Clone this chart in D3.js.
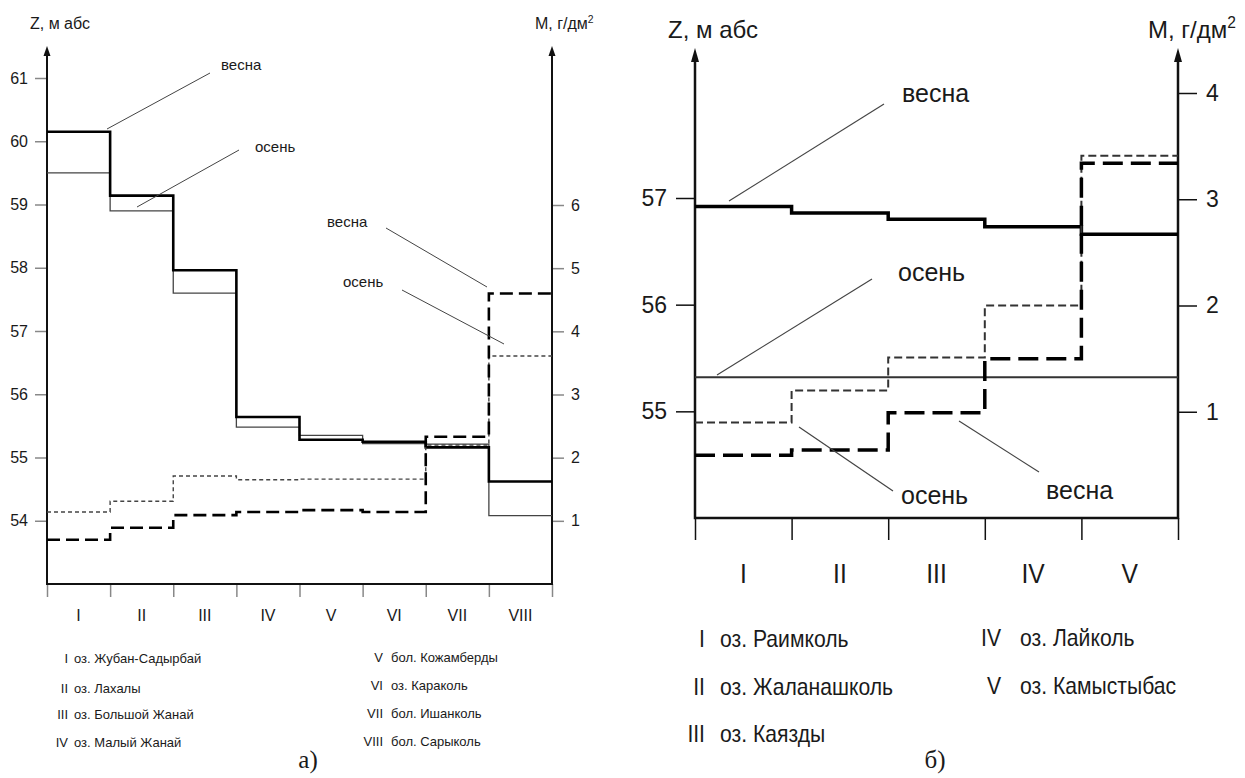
<!DOCTYPE html>
<html>
<head>
<meta charset="utf-8">
<script src="https://cdn.jsdelivr.net/npm/d3@7"></script>
<style>
  body { margin: 0; background: #fff; }
  svg { display: block; }
  text { font-family: "Liberation Sans", Arial, sans-serif; fill: #1a1a1a; }
  .serif { font-family: "Liberation Serif", "Times New Roman", serif; }
</style>
</head>
<body>
<svg id="chart" width="1245" height="778"></svg>
<script>
// ---- panel a) ----
const catsA = ['I', 'II', 'III', 'IV', 'V', 'VI', 'VII', 'VIII'];
const zSpringA = [60.15, 59.14, 57.96, 55.64, 55.28, 55.25, 55.16, 54.62];
const zAutumnA = [59.50, 58.90, 57.60, 55.48, 55.35, 55.22, 55.21, 54.08];
const mSpringA = [0.70, 0.89, 1.09, 1.14, 1.17, 1.14, 2.33, 4.60];
const mAutumnA = [1.14, 1.31, 1.71, 1.65, 1.66, 1.66, 2.20, 3.61];
const zTicksA = [54, 55, 56, 57, 58, 59, 60, 61];
const mTicksA = [1, 2, 3, 4, 5, 6];
const legendA = [
  ['I', 'оз. Жубан-Садырбай'], ['II', 'оз. Лахалы'],
  ['III', 'оз. Большой Жанай'], ['IV', 'оз. Малый Жанай'],
  ['V', 'бол. Кожамберды'], ['VI', 'оз. Караколь'],
  ['VII', 'бол. Ишанколь'], ['VIII', 'бол. Сарыколь']
];

// ---- panel б) ----
const catsB = ['I', 'II', 'III', 'IV', 'V'];
const zSpringB = [56.92, 56.86, 56.80, 56.73, 56.66];
const zAutumnB = [55.32, 55.32, 55.32, 55.32, 55.32];
const mSpringB = [0.59, 0.64, 0.99, 1.50, 3.34];
const mAutumnB = [0.90, 1.20, 1.51, 2.00, 3.41];
const zTicksB = [55, 56, 57];
const mTicksB = [1, 2, 3, 4];
const legendB = [
  ['I', 'оз. Раимколь'], ['II', 'оз. Жаланашколь'], ['III', 'оз. Каязды'],
  ['IV', 'оз. Лайколь'], ['V', 'оз. Камыстыбас']
];

const svg = d3.select('#chart');

function stepPoints(values) {
  const pts = values.map((v, i) => [i, v]);
  pts.push([values.length, values[values.length - 1]]);
  return pts;
}

// text with optional horizontal squeeze (the right panel's font is narrow)
function label(g, x, y, size, str, anchor, sx) {
  return g.append('text')
    .attr('transform', `translate(${x},${y}) scale(${sx || 1},1)`)
    .attr('text-anchor', anchor || 'start')
    .style('font-size', size + 'px')
    .text(str);
}

function drawPanel(p) {
  const g = svg.append('g');
  const x = d3.scaleLinear().domain([0, p.cats.length]).range([p.left, p.right]);
  const yZ = d3.scaleLinear().domain(p.zDomain).range([p.bottom, p.zTopY]);
  const yM = d3.scaleLinear().domain(p.mDomain).range([p.bottom, p.mTopY]);

  const axL = g.append('g').attr('transform', `translate(${p.left},0)`)
    .call(d3.axisLeft(yZ).tickValues(p.zTicks).tickFormat(d3.format('d'))
      .tickSize(p.tickLen).tickPadding(p.tickPad));
  const axR = g.append('g').attr('transform', `translate(${p.right},0)`)
    .call(d3.axisRight(yM).tickValues(p.mTicks).tickFormat(d3.format('d'))
      .tickSize(p.tickLen).tickPadding(p.tickPad));
  const axB = g.append('g').attr('transform', `translate(0,${p.bottom})`)
    .call(d3.axisBottom(x).tickValues(d3.range(p.cats.length + 1)).tickSize(p.xTickLen).tickFormat(''));
  [axL, axR, axB].forEach(a => {
    a.select('.domain').remove();
    a.selectAll('.tick line').attr('stroke', p.tickColor).attr('stroke-width', p.tickWidth);
    a.selectAll('.tick text').style('font-size', p.tickFont + 'px').attr('fill', '#1a1a1a');
  });

  // category labels
  p.cats.forEach((c, i) => label(g, x(i + 0.5), p.catY, p.catFont, c, 'middle', p.catSx));

  // axis frame with arrows
  g.append('path')
    .attr('d', `M${p.left},${p.axisTop}V${p.bottom}H${p.right}V${p.axisTop}`)
    .attr('fill', 'none').attr('stroke', '#111').attr('stroke-width', p.axisWidth);
  [p.left, p.right].forEach(ax => {
    g.append('path')
      .attr('d', `M${ax},${p.axisTop - p.arrowH}L${ax - p.arrowW / 2},${p.axisTop}L${ax + p.arrowW / 2},${p.axisTop}Z`)
      .attr('fill', '#111');
  });

  // axis titles
  label(g, p.zLabelX, p.labelY, p.labelFont, 'Z, м абс', 'start');
  const mt = label(g, p.mLabelX, p.labelY, p.labelFont, '', 'start');
  mt.append('tspan').text('M, г/дм');
  mt.append('tspan').attr('dy', -p.labelFont * 0.4).style('font-size', (p.labelFont * 0.65) + 'px').text('2');

  // series
  const lineZ = d3.line().x(d => x(d[0])).y(d => yZ(d[1])).curve(d3.curveStepAfter);
  const lineM = d3.line().x(d => x(d[0])).y(d => yM(d[1])).curve(d3.curveStepAfter);

  g.append('path').attr('d', lineZ(stepPoints(p.zAutumn)))
    .attr('fill', 'none').attr('stroke', p.autumnColor).attr('stroke-width', p.thinW);
  g.append('path').attr('d', lineZ(stepPoints(p.zSpring)))
    .attr('fill', 'none').attr('stroke', '#000').attr('stroke-width', p.thickW);
  g.append('path').attr('d', lineM(stepPoints(p.mAutumn)))
    .attr('fill', 'none').attr('stroke', p.autumnColor).attr('stroke-width', p.thinDashW)
    .attr('stroke-dasharray', p.thinDash);
  g.append('path').attr('d', lineM(stepPoints(p.mSpring)))
    .attr('fill', 'none').attr('stroke', '#000').attr('stroke-width', p.thickW)
    .attr('stroke-dasharray', p.thickDash);

  // annotations
  p.notes.forEach(n => {
    g.append('line')
      .attr('x1', n.line[0]).attr('y1', n.line[1]).attr('x2', n.line[2]).attr('y2', n.line[3])
      .attr('stroke', '#444').attr('stroke-width', p.noteLineW);
    label(g, n.x, n.y, p.noteFont, n.text, 'start');
  });

  // legend
  p.legend.forEach((d, i) => {
    const pos = p.legendPos[i];
    label(g, pos[0], pos[2], p.legendFont, d[0], 'end', p.legendSx);
    label(g, pos[1], pos[2], p.legendFont, d[1], 'start', p.legendSx);
  });

  g.append('text').attr('class', 'serif')
    .attr('x', p.captionX).attr('y', 768).attr('text-anchor', 'middle')
    .style('font-size', '25px').text(p.caption);
}

drawPanel({
  cats: catsA, left: 47, right: 552, bottom: 584,
  zDomain: [53, 61], zTopY: 78, mDomain: [0, 6], mTopY: 205,
  zTicks: zTicksA, mTicks: mTicksA,
  tickLen: 12, tickPad: 7, xTickLen: 13, tickColor: '#888', tickWidth: 1.5, tickFont: 16,
  catY: 621, catFont: 16, catSx: 1,
  axisTop: 56, arrowH: 10, arrowW: 7, axisWidth: 2,
  zLabelX: 30, mLabelX: 535, labelY: 29, labelFont: 16,
  zSpring: zSpringA, zAutumn: zAutumnA, mSpring: mSpringA, mAutumn: mAutumnA,
  autumnColor: '#444', thinW: 1.3, thickW: 2.6, thinDashW: 1.4,
  thinDash: '4,3', thickDash: '13,6',
  noteFont: 15, noteLineW: 1,
  notes: [
    { text: 'весна', x: 221, y: 70, line: [210, 73, 107, 129] },
    { text: 'осень', x: 255, y: 152, line: [239, 150, 137, 207] },
    { text: 'весна', x: 327, y: 227, line: [386, 228, 487, 287] },
    { text: 'осень', x: 343, y: 287, line: [402, 290, 504, 344] }
  ],
  legend: legendA, legendFont: 13, legendSx: 1,
  legendPos: [
    [68, 74, 663], [68, 74, 693], [68, 74, 719], [68, 74, 747],
    [383, 391, 662], [383, 391, 690], [383, 391, 718], [383, 391, 746]
  ],
  caption: 'а)', captionX: 308
});

drawPanel({
  cats: catsB, left: 695, right: 1178, bottom: 518,
  zDomain: [54, 57], zTopY: 198, mDomain: [0, 4], mTopY: 93,
  zTicks: zTicksB, mTicks: mTicksB,
  tickLen: 19, tickPad: 9, xTickLen: 22, tickColor: '#111', tickWidth: 1.5, tickFont: 23,
  catY: 583, catFont: 28, catSx: 0.88,
  axisTop: 62, arrowH: 14, arrowW: 8, axisWidth: 2.5,
  zLabelX: 668, mLabelX: 1148, labelY: 38, labelFont: 24,
  zSpring: zSpringB, zAutumn: zAutumnB, mSpring: mSpringB, mAutumn: mAutumnB,
  autumnColor: '#333', thinW: 2, thickW: 3.5, thinDashW: 2,
  thinDash: '8,4', thickDash: '20,8',
  noteFont: 25, noteLineW: 1.2,
  notes: [
    { text: 'весна', x: 902, y: 102, line: [884, 104, 729, 201] },
    { text: 'осень', x: 898, y: 281, line: [872, 279, 717, 375] },
    { text: 'осень', x: 901, y: 504, line: [799, 427, 893, 491] },
    { text: 'весна', x: 1046, y: 499, line: [959, 421, 1039, 472] }
  ],
  legend: legendB, legendFont: 23, legendSx: 0.92,
  legendPos: [
    [705, 720, 647], [705, 720, 695], [705, 720, 742],
    [1001, 1020, 646], [1001, 1020, 694]
  ],
  caption: 'б)', captionX: 935
});
</script>
</body>
</html>
